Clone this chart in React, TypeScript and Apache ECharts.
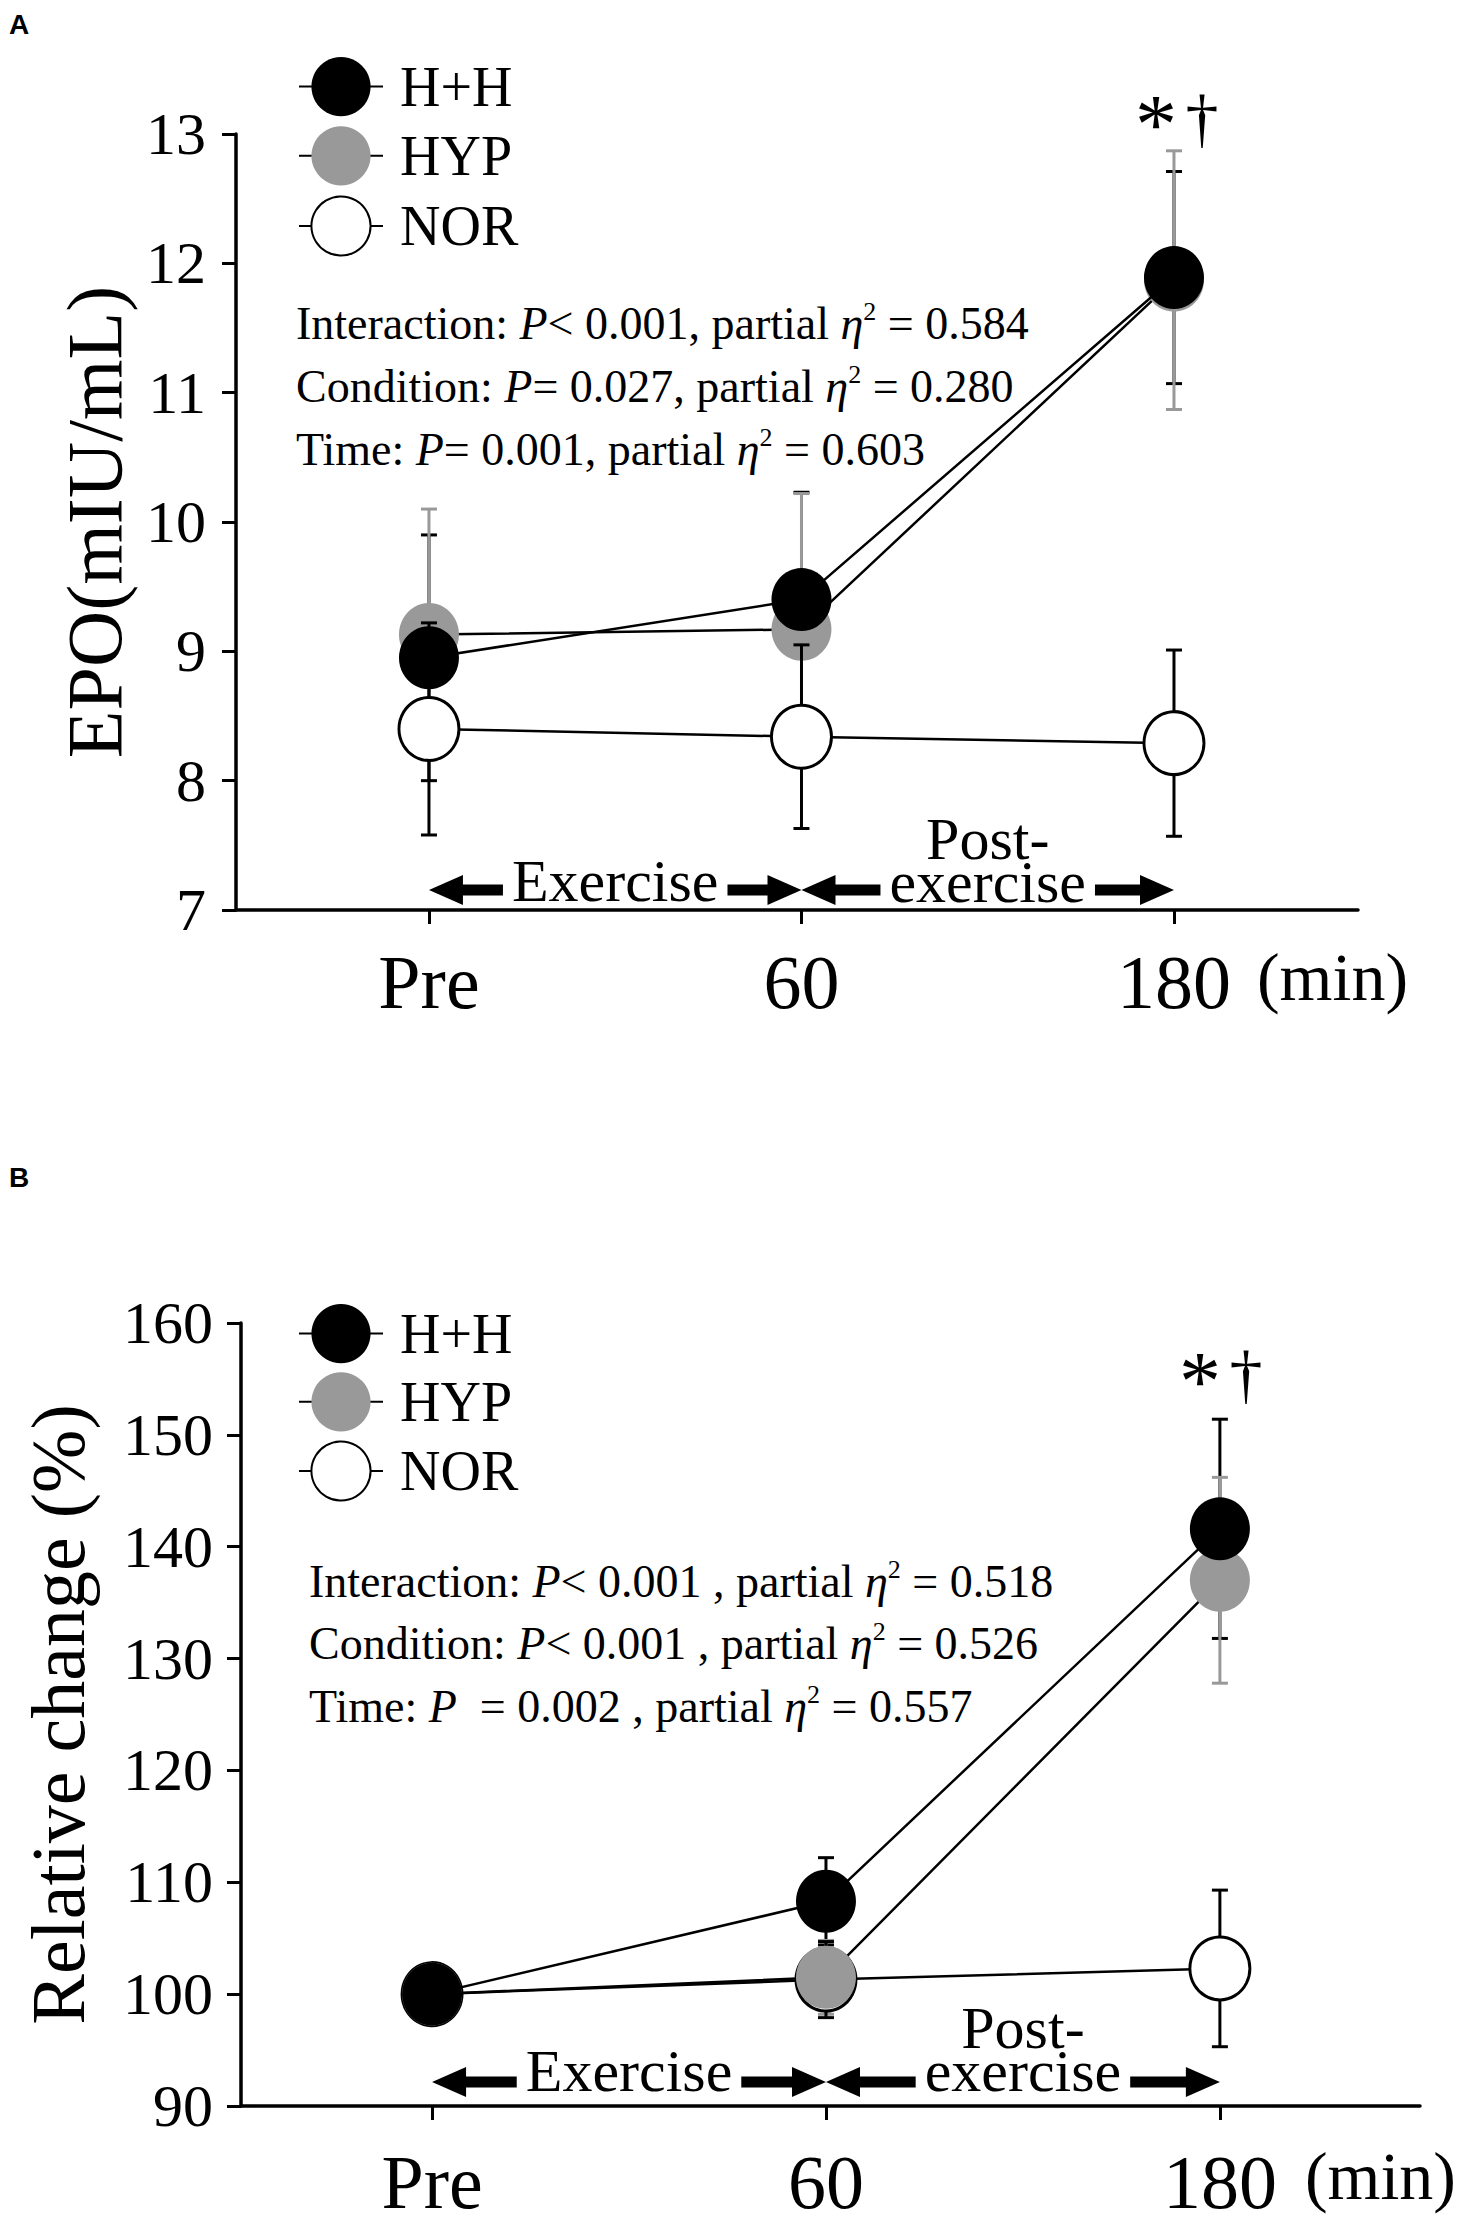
import React, { useEffect, useRef } from 'react';
import * as echarts from 'echarts';

// ---------- data ----------
const timeLabels = ['Pre', '60', '180'];
const timeIndex = [0, 1, 2];
const groupNames = ['H+H', 'HYP', 'NOR'];

// Panel A: EPO (mIU/mL), mean and SD
const epoHH = [8.95, 9.4, 11.89];
const epoHHsd = [0.95, 0.83, 0.82];
const epoHYP = [9.13, 9.17, 11.87];
const epoHYPsd = [0.97, 1.05, 1.0];
const epoNOR = [8.4, 8.34, 8.29];
const epoNORsd = [0.82, 0.71, 0.72];

// Panel B: relative change (%), mean and SD
const relHH = [100, 108.3, 141.6];
const relHHsd = [0, 3.9, 9.8];
const relHYP = [100, 101.5, 137.0];
const relHYPsd = [0, 3.3, 9.2];
const relNOR = [100, 101.3, 102.3];
const relNORsd = [0, 3.4, 7.0];

// statistics text
const statTerms = ['Interaction', 'Condition', 'Time'];
const statPA = ['< 0.001, ', '= 0.027, ', '= 0.001, '];
const statEtaA = ['0.584', '0.280', '0.603'];
const statPB = ['< 0.001 , ', '< 0.001 , ', '  = 0.002 , '];
const statEtaB = ['0.518', '0.526', '0.557'];

const SERIF = '"Liberation Serif", "Times New Roman", serif';
const BLACK = '#000000';
const GRAY = '#999999';

const mkErr = (mean: number[], sd: number[]) => timeIndex.map((x, i) => [x, mean[i], sd[i]]);
const mkLine = (mean: number[]) => timeIndex.map((x, i) => [x, mean[i]]);

function errSeries(gi: number, data: number[][], color: string, z: number, width: number) {
  return {
    type: 'custom',
    xAxisIndex: gi,
    yAxisIndex: gi,
    z,
    silent: true,
    clip: false,
    data,
    encode: { x: 0, y: 1 },
    renderItem: (params: any, api: any) => {
      const x = api.value(0);
      const m = api.value(1);
      const s = api.value(2);
      if (!s) return null;
      const top = api.coord([x, m + s]);
      const bot = api.coord([x, m - s]);
      const c = 8;
      const st = { stroke: color, lineWidth: width };
      return {
        type: 'group',
        children: [
          { type: 'line', shape: { x1: top[0], y1: top[1], x2: bot[0], y2: bot[1] }, style: st },
          { type: 'line', shape: { x1: top[0] - c, y1: top[1], x2: top[0] + c, y2: top[1] }, style: st },
          { type: 'line', shape: { x1: bot[0] - c, y1: bot[1], x2: bot[0] + c, y2: bot[1] }, style: st },
        ],
      };
    },
  };
}

function lineSeries(gi: number, name: string, data: number[][], fill: string, z: number, border: boolean) {
  return {
    type: 'line',
    name,
    xAxisIndex: gi,
    yAxisIndex: gi,
    z,
    silent: true,
    clip: false,
    data,
    symbol: 'circle',
    symbolSize: [60, 63],
    itemStyle: { color: fill, borderColor: border ? BLACK : fill, borderWidth: border ? 3 : 0, opacity: 1 },
    lineStyle: { color: BLACK, width: 2.5 },
    emphasis: { disabled: true },
  };
}

const xAxisCfg = (gi: number, min: number, max: number, margin: number) => ({
  gridIndex: gi,
  type: 'value',
  min,
  max,
  axisLine: { show: true, onZero: false, lineStyle: { color: BLACK, width: 3.5 } },
  axisTick: { show: true, customValues: timeIndex, length: 14, lineStyle: { color: BLACK, width: 3 } },
  axisLabel: {
    show: true,
    customValues: timeIndex,
    formatter: (v: number) => timeLabels[Math.round(v)] ?? '',
    fontSize: 76,
    fontFamily: SERIF,
    color: BLACK,
    margin,
  },
  splitLine: { show: false },
});

const yAxisCfg = (gi: number, min: number, max: number, interval: number, name: string, nameGap: number, nameSize: number, margin: number) => ({
  gridIndex: gi,
  type: 'value',
  min,
  max,
  interval,
  name,
  nameLocation: 'middle',
  nameRotate: 90,
  nameGap,
  nameTextStyle: { fontSize: nameSize, fontFamily: SERIF, color: BLACK },
  axisLine: { show: true, onZero: false, lineStyle: { color: BLACK, width: 3.5 } },
  axisTick: { show: true, length: 14, lineStyle: { color: BLACK, width: 3 } },
  axisLabel: { fontSize: 60, fontFamily: SERIF, color: BLACK, margin },
  splitLine: { show: false },
});

const legendCfg = (top: number, gap: number) => ({
  data: groupNames,
  orient: 'vertical',
  left: 293,
  top,
  itemWidth: 84,
  itemHeight: 74,
  itemGap: gap,
  selectedMode: false,
  textStyle: { fontSize: 56, fontFamily: SERIF, color: BLACK, padding: [0, 0, 0, 12] },
});

const option: any = {
  animation: false,
  backgroundColor: '#ffffff',
  grid: [
    { left: 236, top: 134, width: 1122, height: 776, outerBoundsMode: 'none', containLabel: false },
    { left: 241, top: 1323, width: 1179, height: 783, outerBoundsMode: 'none', containLabel: false },
  ],
  xAxis: [xAxisCfg(0, -0.518, 2.494, 34), xAxisCfg(1, -0.485, 2.508, 38)],
  yAxis: [
    yAxisCfg(0, 7, 13, 1, 'EPO(mIU/mL)', 103, 78, 30),
    yAxisCfg(1, 90, 160, 10, 'Relative change (%)', 145, 76, 28),
  ],
  legend: [legendCfg(52, 10), legendCfg(1299, 9)],
  series: [
    // Panel A
    errSeries(0, mkErr(epoHH, epoHHsd), BLACK, 2, 3),
    errSeries(0, mkErr(epoHYP, epoHYPsd), GRAY, 3, 3),
    lineSeries(0, 'HYP', mkLine(epoHYP), GRAY, 4, false),
    lineSeries(0, 'H+H', mkLine(epoHH), BLACK, 5, false),
    errSeries(0, mkErr(epoNOR, epoNORsd), BLACK, 6, 3),
    lineSeries(0, 'NOR', mkLine(epoNOR), '#ffffff', 7, true),
    // Panel B
    errSeries(1, mkErr(relHH, relHHsd), BLACK, 2, 3),
    errSeries(1, mkErr(relHYP, relHYPsd), GRAY, 3, 3),
    errSeries(1, mkErr(relNOR, relNORsd), BLACK, 4, 3),
    lineSeries(1, 'NOR', mkLine(relNOR), '#ffffff', 5, true),
    lineSeries(1, 'HYP', mkLine(relHYP), GRAY, 6, false),
    lineSeries(1, 'H+H', mkLine(relHH), BLACK, 7, false),
  ],
};

const panelCfg = [
  {
    gi: 0, yMin: 7, yMax: 13, label: 'A', labelY: 10,
    arrowDy: -20, textDy: -29, postDy: -50, minDx: 83, minDy: 67,
    astDx: -18, astDy: -10, dagDx: 28, dagDy: -17,
    statX: 296, statY: [323, 386, 449], statP: statPA, statEta: statEtaA,
  },
  {
    gi: 1, yMin: 90, yMax: 160, label: 'B', labelY: 1163,
    arrowDy: -24, textDy: -35, postDy: -57, minDx: 85, minDy: 70,
    astDx: -20, astDy: 58, dagDx: 26, dagDy: 50,
    statX: 309, statY: [1581, 1643, 1706], statP: statPB, statEta: statEtaB,
  },
];

const statRich = {
  t: { fontSize: 46, fontFamily: SERIF, color: BLACK, lineHeight: 50 },
  i: { fontSize: 46, fontFamily: SERIF, fontStyle: 'italic', color: BLACK, lineHeight: 50 },
  s: { fontSize: 26, fontFamily: SERIF, color: BLACK, lineHeight: 26, verticalAlign: 'top' },
};

function buildGraphics(chart: any) {
  const els: any[] = [];
  panelCfg.forEach((p) => {
    const pts = timeIndex.map((t) => chart.convertToPixel({ gridIndex: p.gi }, [t, p.yMin]));
    const topPx = chart.convertToPixel({ gridIndex: p.gi }, [2, p.yMax]);
    const axisY = pts[0][1];
    const x0 = pts[0][0];
    const x1 = pts[1][0];
    const x2 = pts[2][0];
    const ay = axisY + p.arrowDy;
    const hl = 34;
    const hh = 15;
    const shaft = { stroke: BLACK, lineWidth: 11 };
    els.push({ type: 'line', z: 10, shape: { x1: x0 + hl - 2, y1: ay, x2: x1 - hl + 2, y2: ay }, style: shaft });
    els.push({ type: 'line', z: 10, shape: { x1: x1 + hl - 2, y1: ay, x2: x2 - hl + 2, y2: ay }, style: shaft });
    const head = (tip: number, dir: number) => ({
      type: 'polygon',
      z: 10,
      shape: { points: [[tip, ay], [tip + dir * hl, ay - hh], [tip + dir * hl, ay + hh]] },
      style: { fill: BLACK },
    });
    els.push(head(x0, 1), head(x1, -1), head(x1, 1), head(x2, -1));
    const txt = (s: string, x: number, y: number, z: number) => ({
      type: 'text',
      z,
      x,
      y,
      style: {
        text: s,
        fontSize: 60,
        fontFamily: SERIF,
        fill: BLACK,
        align: 'center',
        verticalAlign: 'middle',
        lineHeight: 43,
        backgroundColor: '#ffffff',
        padding: [0, 9],
      },
    });
    els.push(txt('Exercise', (x0 + x1) / 2, axisY + p.textDy, 11));
    els.push(txt('Post-\nexercise', (x1 + x2) / 2, axisY + p.postDy, 11));
    // (min)
    els.push({
      type: 'text', z: 10, x: x2 + p.minDx, y: axisY + p.minDy,
      style: { text: '(min)', fontSize: 68, fontFamily: SERIF, fill: BLACK, align: 'left', verticalAlign: 'middle' },
    });
    // significance marks
    els.push({
      type: 'text', z: 10, x: topPx[0] + p.astDx, y: topPx[1] + p.astDy,
      style: { text: '*', fontSize: 84, fontFamily: SERIF, fill: BLACK, align: 'center', verticalAlign: 'middle' },
    });
    els.push({
      type: 'text', z: 10, x: topPx[0] + p.dagDx, y: topPx[1] + p.dagDy,
      style: { text: '\u2020', fontSize: 66, fontFamily: SERIF, fill: BLACK, align: 'center', verticalAlign: 'middle' },
    });
    // panel letter
    els.push({
      type: 'text', z: 10, x: 9, y: p.labelY,
      style: { text: p.label, fontSize: 28, fontWeight: 'bold', fontFamily: '"Liberation Sans", Arial, sans-serif', fill: BLACK, align: 'left', verticalAlign: 'top' },
    });
    // statistics
    statTerms.forEach((term, i) => {
      els.push({
        type: 'text', z: 10, x: p.statX, y: p.statY[i],
        style: {
          text: `{t|${term}: }{i|P}{t|${p.statP[i]}partial }{i|\u03B7}{s|2}{t| = ${p.statEta[i]}}`,
          rich: statRich,
          align: 'left',
          verticalAlign: 'middle',
        },
      });
    });
  });
  return els;
}

export default function App() {
  const ref = useRef<HTMLDivElement>(null);
  useEffect(() => {
    if (!ref.current) return;
    const chart = echarts.init(ref.current, null, { renderer: 'svg' });
    chart.setOption(option);
    chart.setOption({ graphic: buildGraphics(chart) });
    return () => chart.dispose();
  }, []);
  return (
    <div
      ref={ref}
      style={{ position: 'absolute', left: 0, top: 0, width: 1458, height: 2226, background: '#ffffff' }}
    />
  );
}
